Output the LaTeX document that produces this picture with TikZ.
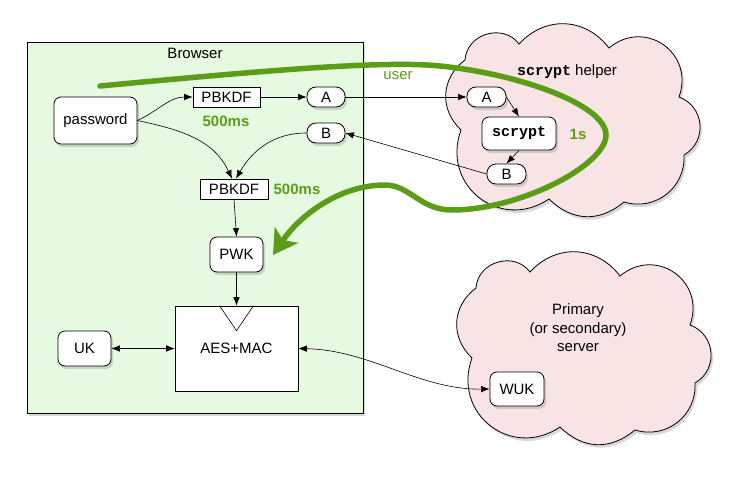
\documentclass[tikz,border=0pt]{standalone}
\usepackage{fontspec}
\setmainfont{Liberation Sans}
\setmonofont{Liberation Mono}
\usetikzlibrary{shadows,arrows.meta}
\definecolor{bgreen}{HTML}{E6FAE2}
\definecolor{cpink}{HTML}{F8E4E4}
\definecolor{ugreen}{HTML}{5B9D17}
\newcommand\omnicloud{%
  (-108,8) to[bend left=50, looseness=1.1] (-104,-62)
  to[bend left=70, looseness=1.2] (-50,-78)
  to[bend left=50, looseness=1.1] (40,-74)
  to[bend left=75, looseness=1.4] (110,-25)
  to[bend left=65, looseness=1.2] (115,33)
  to[bend left=55, looseness=1.1] (55,80)
  to[bend left=42, looseness=1.1] (-20,77)
  to[bend left=72, looseness=1.35] (-108,8) -- cycle}
\begin{document}
\begin{tikzpicture}[x=1pt,y=-1pt,
  every node/.style={font=\fontsize{15}{18}\selectfont, inner sep=0pt},
  shad/.style={drop shadow={opacity=0.3, shadow xshift=2pt, shadow yshift=-3pt}},
  rnode/.style={draw, line width=0.8pt, fill=white, rounded corners=7pt, shad},
  pill/.style={draw, line width=0.8pt, fill=white, rounded corners=9pt, shad, minimum width=38pt, minimum height=20pt},
  sbox/.style={draw, line width=0.6pt, fill=white},
  arr/.style={-{Latex[length=8.5pt,width=6.5pt]}, line width=0.6pt},
  darr/.style={{Latex[length=8.5pt,width=6.5pt]}-{Latex[length=8.5pt,width=6.5pt]}, line width=0.6pt},
  glabel/.style={text=ugreen, font=\fontsize{15}{18}\selectfont\bfseries},
  cloudstyle/.style={draw, line width=0.8pt, fill=cpink, shad}
]
\useasboundingbox (0,0) rectangle (739,479);
% Browser box
\node[draw, line width=0.8pt, fill=bgreen, shad, minimum width=336pt, minimum height=371pt] (browser) at (195,227.5) {};
\node (browserlbl) at (195,53) {Browser};
% clouds
\begin{scope}[shift={(569,122)}]
\draw[cloudstyle] \omnicloud;
\end{scope}
\node (helperlbl) at (567,72) {\texttt{\bfseries scrypt} helper};
\begin{scope}[shift={(580,350)}]
\draw[cloudstyle] \omnicloud;
\end{scope}
\node[align=center, font=\fontsize{15}{18.5}\selectfont] (serverlbl) at (578,328) {Primary\\(or secondary)\\server};
% green user path
\coordinate (gstart) at (100,86);
\coordinate (gend) at (273,255);
\draw[ugreen, line width=5.5pt, line cap=round, -{Stealth[length=24pt,width=28pt,inset=6pt]}]
  (gstart) .. controls (250,72) and (380,60) .. (440,66)
  .. controls (520,74) and (606,105) .. (606,135)
  .. controls (606,165) and (520,210) .. (452,210)
  .. controls (420,210) and (410,185) .. (385,185)
  .. controls (340,185) and (300,215) .. (gend);
\node[text=ugreen] (userlbl) at (398,76) {user};
% nodes
\node[rnode, minimum width=83pt, minimum height=47pt] (pw) at (95.5,120.5) {password};
\node[sbox, minimum width=67pt, minimum height=20pt] (pb1) at (226.5,97) {PBKDF};
\node[glabel] (ms1) at (226,121) {500ms};
\node[pill] (a1) at (326,97) {A};
\node[pill] (b1) at (326,133) {B};
\node[sbox, minimum width=68pt, minimum height=20pt] (pb2) at (234,189) {PBKDF};
\node[glabel] (ms2) at (297,189) {500ms};
\node[rnode, minimum width=53pt, minimum height=35pt] (pwk) at (236.5,254.5) {PWK};
\node[sbox, minimum width=123pt, minimum height=85pt] (aes) at (236.5,348.5) {AES+MAC};
\draw[line width=0.6pt] ([xshift=-17pt]aes.north) -- ([yshift=-25pt]aes.north) -- ([xshift=17pt]aes.north);
\node[rnode, minimum width=53pt, minimum height=35pt] (uk) at (84.5,348.5) {UK};
\node[pill, minimum width=39pt] (a2) at (486.5,97) {A};
\node[rnode, minimum width=74pt, minimum height=33pt, font=\fontsize{15}{18}\selectfont\ttfamily\bfseries] (scrypt) at (519,133.5) {scrypt};
\node[glabel] (onesec) at (578,134) {1s};
\node[pill, minimum width=39pt] (b2) at (506.5,174) {B};
\node[rnode, minimum width=54pt, minimum height=34pt] (wuk) at (517,389) {WUK};
% connectors
\draw[arr] (pw.east) to[out=25,in=180] (pb1.west);
\draw[arr] (pw.east) to[out=-12,in=115] ([xshift=-2pt]pb2.north);
\draw[arr] (b1.west) to[out=180,in=60] ([xshift=2pt]pb2.north);
\draw[arr] (pb1.east) -- (a1.west);
\draw[arr] (a1.east) -- (a2.west);
\draw[arr] (a2.east) -- (scrypt.north);
\draw[arr] (scrypt.south) -- (b2.north);
\draw[arr] (b2.west) -- (b1.east);
\draw[arr] (pb2.south) -- (pwk.north);
\draw[arr] (pwk.south) -- (aes.north);
\draw[darr] (uk.east) -- (aes.west);
\draw[darr] (aes.east) .. controls (370,350) and (420,390) .. (wuk.west);
\end{tikzpicture}
\end{document}
